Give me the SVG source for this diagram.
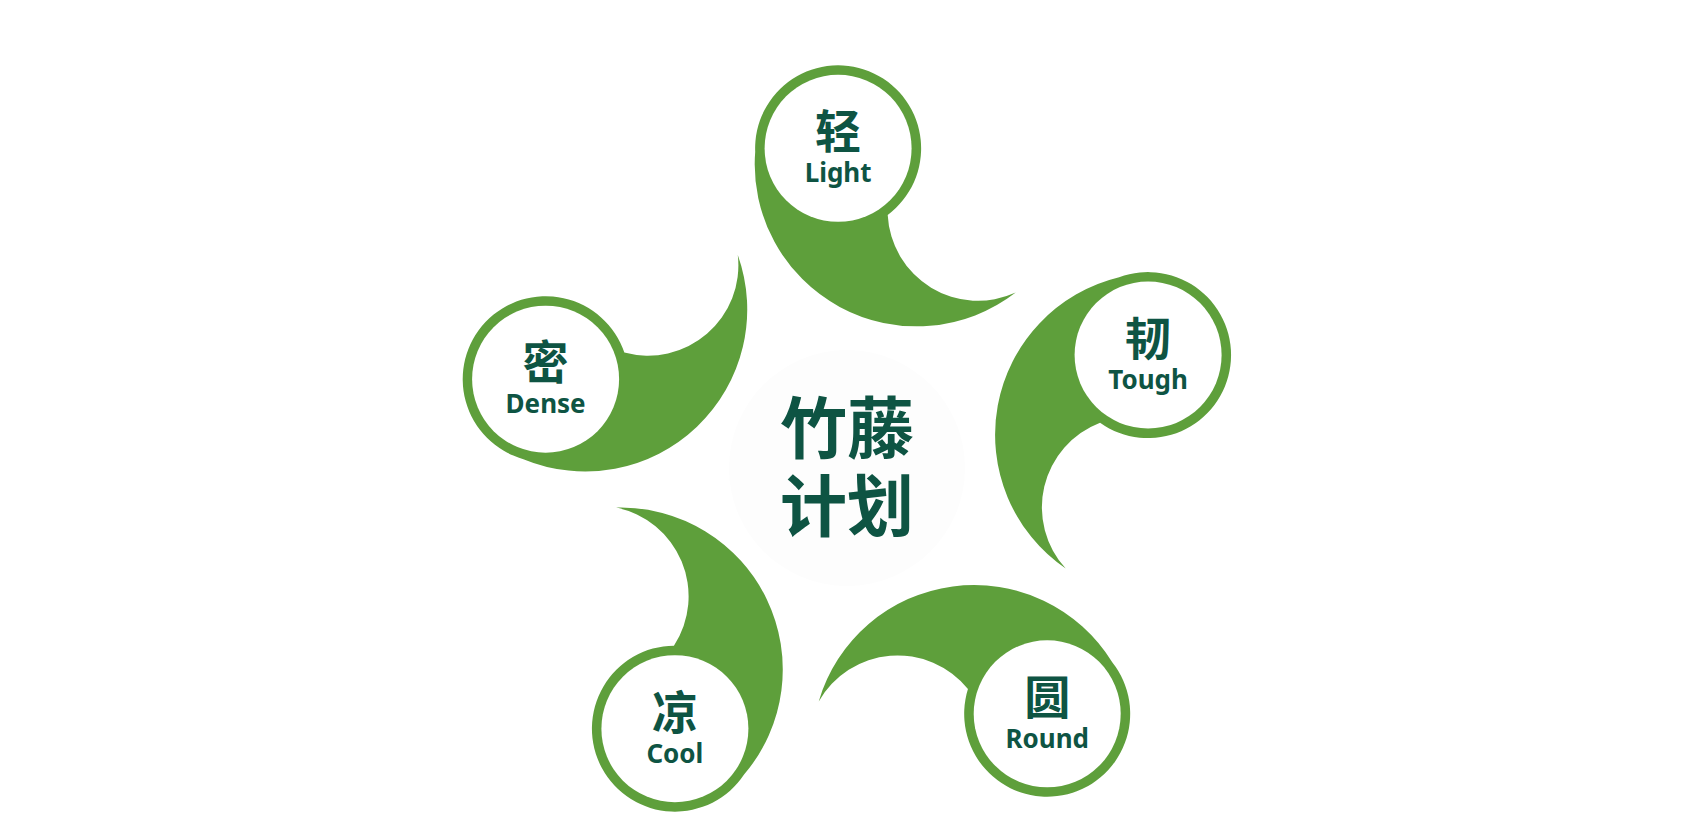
<svg xmlns="http://www.w3.org/2000/svg" xmlns:xlink="http://www.w3.org/1999/xlink" width="1692" height="834" viewBox="0 0 1692 834">
<style>
.petal{fill:#5e9f3b}
.hole{fill:#ffffff}
.zh{font-family:"Noto Sans CJK SC","Noto Sans",sans-serif;font-weight:700;font-size:46px;fill:#0e5443;text-anchor:middle}
.en{font-family:"Noto Sans","Open Sans",sans-serif;font-weight:700;font-size:26px;fill:#0e5443;text-anchor:middle}
.title{font-family:"Noto Sans CJK SC",sans-serif;font-weight:700;font-size:67px;fill:#0e5443;text-anchor:middle}
</style>
<defs>
<path id="petalShape" d="M -82.9,3.5 A 162 162 0 0 0 177.6,144.3 A 90.5 90.5 0 0 1 49.6,66.6 A 83 83 0 1 0 -82.9,3.5 Z"/>
</defs>
<rect width="1692" height="834" fill="#ffffff"/>
<g id="center">
<circle cx="847" cy="468" r="118" fill="#fdfdfd"/>
<text class="title" x="847" y="453">竹藤</text>
<text class="title" x="847" y="531">计划</text>
</g>
<g id="node-light">
<use xlink:href="#petalShape" class="petal" transform="rotate(0 850.8 465) translate(838.1 148.3)"/>
<circle class="hole" cx="838.1" cy="148.3" r="73.5"/>
<text class="zh" x="838.1" y="148.3">轻</text>
<text class="en" x="838.1" y="182.3">Light</text>
</g>
<g id="node-tough">
<use xlink:href="#petalShape" class="petal" transform="rotate(72 850.8 465) translate(838.1 148.3)"/>
<circle class="hole" cx="1148.1" cy="355" r="73.5"/>
<text class="zh" x="1148.1" y="355">韧</text>
<text class="en" x="1148.1" y="389">Tough</text>
</g>
<g id="node-round">
<use xlink:href="#petalShape" class="petal" transform="rotate(144 850.8 465) translate(838.1 148.3)"/>
<circle class="hole" cx="1047.2" cy="713.8" r="73.5"/>
<text class="zh" x="1047.2" y="713.8">圆</text>
<text class="en" x="1047.2" y="747.8">Round</text>
</g>
<g id="node-cool">
<use xlink:href="#petalShape" class="petal" transform="rotate(216 850.8 465) translate(838.1 148.3)"/>
<circle class="hole" cx="674.9" cy="728.7" r="73.5"/>
<text class="zh" x="674.9" y="728.7">凉</text>
<text class="en" x="674.9" y="762.7">Cool</text>
</g>
<g id="node-dense">
<use xlink:href="#petalShape" class="petal" transform="rotate(288 850.8 465) translate(838.1 148.3)"/>
<circle class="hole" cx="545.6" cy="379.2" r="73.5"/>
<text class="zh" x="545.6" y="379.2">密</text>
<text class="en" x="545.6" y="413.2">Dense</text>
</g>
<g id="connectors"/>
</svg>
